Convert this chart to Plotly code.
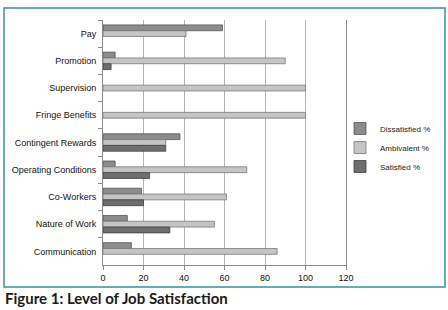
import plotly.graph_objects as go

categories = ["Pay", "Promotion", "Supervision", "Fringe Benefits", "Contingent Rewards",
              "Operating Conditions", "Co-Workers", "Nature of Work", "Communication"]
dissatisfied = [59, 6, None, None, 38, 6, 19, 12, 14]
ambivalent = [41, 90, 100, 100, 31, 71, 61, 55, 86]
satisfied = [None, 4, None, None, 31, 23, 20, 33, None]
x_ticks = [0, 20, 40, 60, 80, 100, 120]

series = [
    ("Dissatisfied %", dissatisfied, "#8c8c8c", "#555555"),
    ("Ambivalent %", ambivalent, "#c4c4c4", "#7a7a7a"),
    ("Satisfied %", satisfied, "#6e6e6e", "#404040"),
]

fig = go.Figure()
for name, vals, col, edge in series:
    fig.add_trace(go.Bar(
        y=categories, x=vals, name=name, orientation="h",
        marker=dict(color=col, line=dict(color=edge, width=0.8)),
    ))

W, H = 448, 310
L, R, T, B = 103, 102, 20, 45
pw, ph = W - L - R, H - T - B

def px(xp):
    return (xp - L) / pw

def py(yp):
    return (H - B - yp) / ph

fig.update_layout(
    width=W, height=H,
    margin=dict(l=L, r=R, t=T, b=B, pad=0, autoexpand=False),
    paper_bgcolor="white", plot_bgcolor="white",
    barmode="group", bargap=0.36, bargroupgap=0.0,
    font=dict(family="Liberation Sans, Arial, sans-serif", size=9, color="#333333"),
    showlegend=True,
    legend=dict(x=px(340), y=py(114), xanchor="left", yanchor="top",
                font=dict(size=8, color="#222222"), bgcolor="rgba(0,0,0,0)",
                itemwidth=30, tracegroupgap=0),
    xaxis=dict(range=[0, 120], tickvals=x_ticks, showgrid=True, gridcolor="#b4b4b4",
               gridwidth=1, showline=True, linecolor="#8a8a8a", linewidth=1,
               ticks="outside", ticklen=4, tickcolor="#8a8a8a", zeroline=False,
               automargin=False,
               tickfont=dict(size=9, color="#111111")),
    yaxis=dict(categoryorder="array", categoryarray=categories, autorange="reversed",
               showline=True, linecolor="#8a8a8a", linewidth=1, mirror=True,
               ticks="outside", ticklen=4, tickcolor="#8a8a8a", tickson="boundaries",
               showgrid=False, ticklabelstandoff=4, automargin=False,
               tickfont=dict(size=9, color="#111111")),
    shapes=[dict(type="rect", xref="paper", yref="paper",
                 x0=px(4), x1=px(445), y0=py(287), y1=py(8),
                 line=dict(color="#3a8fa0", width=1.5), fillcolor="rgba(0,0,0,0)",
                 layer="below")],
    annotations=[dict(text="<b>Figure 1: Level of Job Satisfaction</b>",
                      xref="paper", yref="paper", x=px(3), y=py(298),
                      xanchor="left", yanchor="middle", showarrow=False,
                      font=dict(family="Lato, Open Sans, sans-serif", size=15, color="#1a1a1a"))],
)

fig.write_html("out.html", config={"displayModeBar": False},
               post_script="document.body.style.margin='0';document.body.style.overflow='hidden';")
